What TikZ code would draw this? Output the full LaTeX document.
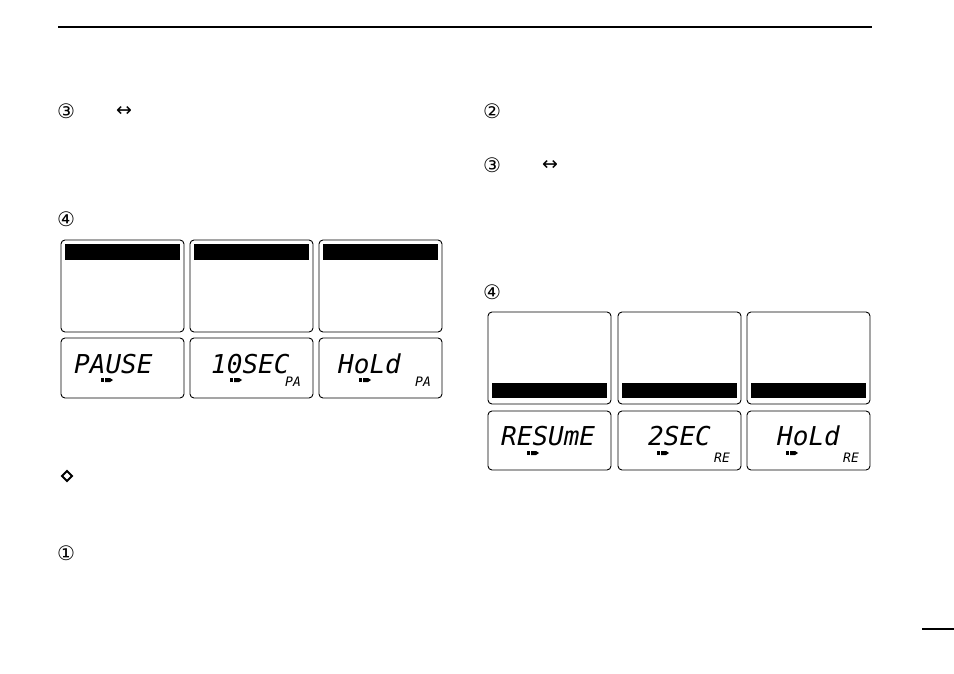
\documentclass[tikz,border=0pt]{standalone}
\usepackage{fontspec}
\newfontfamily\symfont{DejaVu Sans}
\newfontfamily\lcdfont{DejaVu Sans Mono}
\begin{document}
\begin{tikzpicture}[x=1pt,y=-1pt,
  scr/.style={draw, line width=0.9pt, rounded corners=4pt},
  blackbar/.style={fill=black},
  circnum/.style={font=\symfont\fontsize{20}{20}\selectfont, inner sep=0},
  arrowsym/.style={font=\symfont\fontsize{19}{19}\selectfont, inner sep=0},
  lcdtxt/.style={font=\lcdfont\itshape\fontsize{26}{26}\selectfont, inner sep=0, anchor=base west},
  lcdsmall/.style={font=\lcdfont\itshape\fontsize{13}{13}\selectfont, inner sep=0, anchor=base west},
  batt/.pic={\fill (-6,-2) rectangle (-3,2);
             \fill (-2,-2) -- (3,-2) -- (6,0) -- (3,2) -- (-2,2) -- cycle;}
]
\useasboundingbox (0,0) rectangle (954,674);
\fill[white] (0,0) rectangle (954,674);
% header rule
\coordinate (hl) at (58,27);
\coordinate (hr) at (872,27);
\draw[line width=2pt] (hl) -- (hr);
% page number rule
\coordinate (pl) at (922,629);
\coordinate (pr) at (954,629);
\draw[line width=1.2pt] (pl) -- (pr);

% circled numbers and arrows
\node[circnum] (l3) at (66,111) {③};
\node[arrowsym] (la) at (124,111) {↔};
\node[circnum] (l4) at (66,219) {④};
\node[circnum] (l1) at (66,553) {①};
\node[circnum] (r2) at (492,111) {②};
\node[circnum] (r3) at (492,165) {③};
\node[arrowsym] (ra) at (550,165) {↔};
\node[circnum] (r4) at (492,292) {④};
% diamond bullet
\draw[line width=2pt] (67,471) -- (72,476) -- (67,481) -- (62,476) -- cycle;

% left group
\foreach \x in {61,190,319}{
  \draw[scr] (\x,240) rectangle ++(123,92);
  \fill[blackbar] (\x+4,244) rectangle ++(115,16);
  \draw[scr] (\x,338) rectangle ++(123,60);
  \pic at (\x+46,380) {batt};
}
\node[lcdtxt] (lt1) at (74,373) {PAUSE};
\node[lcdtxt] (lt2) at (211,373) {10SEC};
\node[lcdtxt] (lt3) at (338,373) {HoLd};
\node[lcdsmall] (lp2) at (285,386) {PA};
\node[lcdsmall] (lp3) at (415,386) {PA};

% right group
\foreach \x in {488,618,747}{
  \draw[scr] (\x,312) rectangle ++(123,92);
  \fill[blackbar] (\x+4,383) rectangle ++(115,15);
  \draw[scr] (\x,411) rectangle ++(123,59);
  \pic at (\x+45,453) {batt};
}
\node[lcdtxt] (rt1) at (501,445) {RESUmE};
\node[lcdtxt] (rt2) at (648,445) {2SEC};
\node[lcdtxt] (rt3) at (777,445) {HoLd};
\node[lcdsmall] (rp2) at (714,462) {RE};
\node[lcdsmall] (rp3) at (843,462) {RE};
\end{tikzpicture}
\end{document}
